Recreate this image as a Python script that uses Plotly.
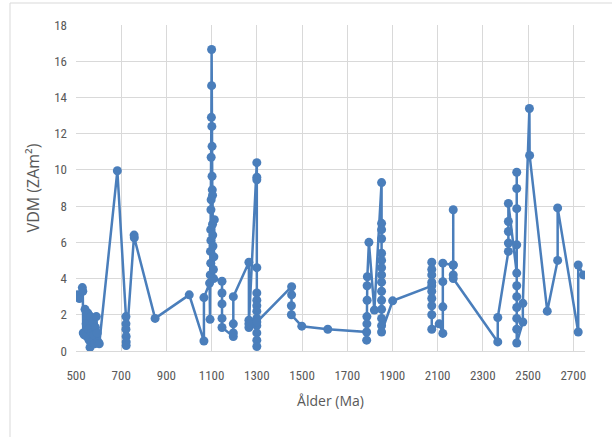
import plotly.graph_objects as go

# Age (Ma) and VDM (ZAm^2), in drawing order
age = [
    505, 515, 528, 530, 532, 536, 540, 545, 548, 552, 555, 558, 562, 565, 568, 571, 575,
    578, 582, 586, 590, 594, 598, 603,
    683, 721, 721, 721, 722, 722, 722, 757, 758, 850, 1001, 1066, 1066,
    1091, 1093, 1094, 1095, 1096, 1096, 1097, 1097, 1098, 1098, 1099, 1100, 1100,
    1101, 1102, 1102, 1103, 1104, 1104, 1105, 1106, 1108, 1112, 1110, 1109,
    1146, 1146, 1146, 1146, 1146, 1196, 1196, 1196, 1196,
    1265, 1265, 1265, 1265,
    1300, 1300, 1300, 1300, 1300, 1300, 1300, 1300, 1300, 1300, 1300, 1300, 1300, 1300,
    1454, 1454, 1453, 1453, 1499, 1614, 1786, 1786, 1787, 1787, 1788, 1788, 1789, 1796, 1820,
    1852, 1852, 1852, 1852, 1852, 1852, 1852, 1852, 1852, 1852, 1852, 1852, 1852, 1852, 1852,
    1901, 2074, 2074, 2074, 2074, 2074, 2074, 2074, 2074, 2074, 2074, 2107,
    2123, 2123, 2123, 2123, 2169, 2169, 2169, 2169, 2169,
    2366, 2366, 2413, 2413, 2413, 2413, 2413,
    2450, 2450, 2450, 2450, 2450, 2450, 2450, 2450, 2450, 2450, 2450,
    2477, 2477, 2506, 2507, 2585, 2631, 2631, 2722, 2722, 2745,
]
vdm = [
    3.1, 2.9, 3.5, 3.3, 1.0, 0.9, 2.3, 1.5, 0.8, 2.1, 1.2, 0.6, 0.2, 1.9, 1.0, 0.5, 1.6,
    0.9, 0.4, 1.3, 1.9, 1.0, 0.5, 0.4,
    9.95, 1.9, 1.5, 1.2, 0.8, 0.5, 0.3, 6.4, 6.25, 1.8, 3.1, 0.55, 2.95,
    3.75, 1.75, 4.2, 5.5, 6.7, 4.85, 6.1, 7.8, 8.35, 10.7, 12.9, 16.65,
    14.65, 12.4, 11.3, 9.65, 8.9, 8.6, 7.0, 6.4, 5.8, 4.5, 7.25, 5.2, 4.0,
    3.85, 3.2, 2.6, 1.8, 1.3, 0.8, 1.0, 1.5, 3.0,
    4.9, 1.7, 1.3, 1.5,
    10.4, 9.6, 9.45, 4.6, 3.2, 2.8, 2.5, 2.2, 1.8, 1.4, 1.0, 0.6, 0.25, 1.6,
    3.55, 3.1, 2.5, 2.0, 1.37, 1.2, 1.05, 0.6, 1.5, 1.9, 2.8, 3.6, 4.1, 6.0, 2.26,
    9.3, 7.05, 6.7, 6.2, 5.4, 5.0, 4.6, 4.2, 3.8, 3.3, 2.8, 2.3, 1.8, 1.4, 1.05,
    2.77, 3.6, 4.9, 4.5, 4.2, 3.8, 3.3, 2.9, 2.5, 2.0, 1.2, 1.5,
    0.97, 2.44, 3.83, 4.85, 4.75, 7.8, 4.75, 4.2, 4.0,
    0.5, 1.85, 5.5, 5.96, 6.6, 7.15, 8.15,
    4.3, 9.87, 8.97, 7.86, 5.86, 3.6, 3.0, 2.4, 1.8, 1.2, 0.44,
    1.6, 2.63, 13.39, 10.8, 2.2, 5.0, 7.9, 1.05, 4.75, 4.2,
]

x_ticks = [500, 700, 900, 1100, 1300, 1500, 1700, 1900, 2100, 2300, 2500, 2700]
y_ticks = [0, 2, 4, 6, 8, 10, 12, 14, 16, 18]

blue = "#4a7ebb"
grey_txt = "#595959"
font_fam = "Liberation Sans Narrow, Roboto Condensed, Roboto, sans-serif"

fig = go.Figure(
    go.Scatter(
        x=age, y=vdm, mode="lines+markers",
        line=dict(color=blue, width=2.5),
        marker=dict(color=blue, size=9),
        showlegend=False,
    )
)

fig.update_layout(
    width=612, height=437,
    margin=dict(l=76, r=27, t=25, b=86),
    paper_bgcolor="white", plot_bgcolor="white",
    font=dict(family=font_fam, color=grey_txt, size=13),
    shapes=[
        dict(type="line", xref="paper", yref="paper",
             x0=(10 - 76) / 509, x1=(612 - 76) / 509,
             y0=(351 - 3) / 326, y1=(351 - 3) / 326,
             line=dict(color="#d9d9d9", width=1)),
        dict(type="line", xref="paper", yref="paper",
             x0=(10 - 76) / 509, x1=(10 - 76) / 509,
             y0=(351 - 3) / 326, y1=(351 - 437) / 326,
             line=dict(color="#d9d9d9", width=1)),
    ],
)
fig.update_xaxes(
    range=[500, 2752], tickvals=x_ticks, ticktext=[str(v) for v in x_ticks],
    showgrid=True, gridcolor="#d9d9d9", gridwidth=1,
    showline=True, linecolor="#d9d9d9", zeroline=False,
    ticks="", ticklabelstandoff=12,
    title=dict(text="Ålder (Ma)", font=dict(family="Open Sans, sans-serif", size=14, color=grey_txt), standoff=14),
)
fig.update_yaxes(
    range=[0, 18], tickvals=y_ticks, ticktext=[str(v) for v in y_ticks],
    showgrid=True, gridcolor="#d9d9d9", gridwidth=1,
    showline=False, zeroline=False, ticks="", ticklabelstandoff=8,
    title=dict(text="VDM (ZAm²)", font=dict(family="Open Sans, sans-serif", size=16, color=grey_txt), standoff=10),
)

fig.write_html("out.html")
